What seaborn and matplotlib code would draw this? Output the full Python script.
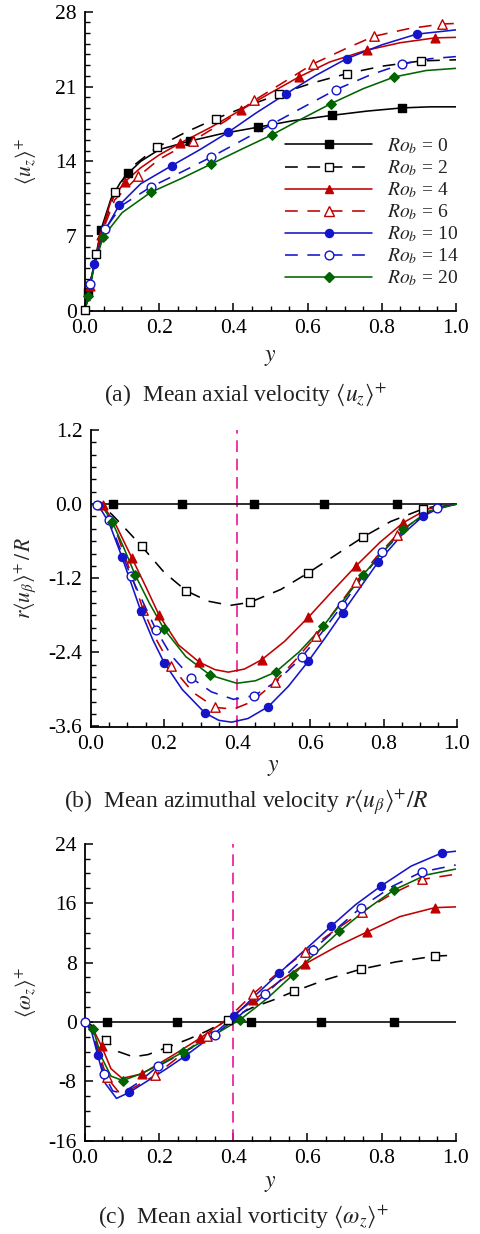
import matplotlib
matplotlib.use("Agg")
import matplotlib.pyplot as plt
import seaborn as sns
from matplotlib.lines import Line2D
from matplotlib.ticker import MultipleLocator, FormatStrFormatter

# ---------------------------------------------------------------------------
# Rotation numbers
ro_values = [0, 2, 4, 6, 10, 14, 20]

# (a) mean axial velocity <u_z>+ : curve points and symbol points, (y, value)
uz_ro0 = [(0, 0), (0.009, 1.8), (0.025, 4.4), (0.043, 7.6), (0.07, 10.5), (0.095, 12.0),
          (0.117, 12.9), (0.15, 14.0), (0.2, 15.1), (0.283, 15.9), (0.37, 16.6), (0.467, 17.2),
          (0.56, 17.8), (0.665, 18.3), (0.76, 18.7), (0.854, 19.0), (0.93, 19.1), (1.0, 19.1)]
uz_ro0_sym = [(0.009, 1.8), (0.043, 7.6), (0.117, 12.9), (0.283, 15.9), (0.467, 17.2),
              (0.665, 18.3), (0.854, 19.0)]
uz_ro2 = [(0, 0.1), (0.015, 2.7), (0.029, 5.3), (0.05, 8.0), (0.081, 11.1), (0.12, 13.3),
          (0.193, 15.3), (0.27, 16.7), (0.353, 18.0), (0.44, 19.2), (0.524, 20.3), (0.61, 21.3),
          (0.705, 22.2), (0.8, 22.9), (0.907, 23.4), (1.0, 23.5)]
uz_ro2_sym = [(0, 0.1), (0.029, 5.3), (0.081, 11.1), (0.193, 15.3), (0.353, 18.0),
              (0.524, 20.3), (0.705, 22.2), (0.907, 23.4)]
uz_ro4 = [(0, 0), (0.013, 2.3), (0.042, 7.1), (0.07, 10.3), (0.108, 12.1), (0.15, 13.4),
          (0.2, 14.6), (0.256, 15.7), (0.34, 17.2), (0.42, 18.8), (0.5, 20.4), (0.577, 21.9),
          (0.66, 23.3), (0.759, 24.4), (0.85, 25.1), (0.943, 25.55), (1.0, 25.6)]
uz_ro4_sym = [(0.013, 2.3), (0.042, 7.1), (0.108, 12.1), (0.256, 15.7), (0.42, 18.8),
              (0.577, 21.9), (0.759, 24.4), (0.943, 25.55)]
uz_ro6 = [(0, 0), (0.013, 2.3), (0.042, 7.0), (0.08, 10.4), (0.144, 12.6), (0.2, 14.2),
          (0.292, 15.95), (0.38, 17.8), (0.456, 19.7), (0.54, 21.5), (0.614, 23.1), (0.7, 24.5),
          (0.779, 25.7), (0.87, 26.4), (0.963, 26.85), (1.0, 26.9)]
uz_ro6_sym = [(0.144, 12.6), (0.292, 15.95), (0.456, 19.7), (0.614, 23.1), (0.779, 25.7),
              (0.963, 26.85)]
uz_ro10 = [(0, 0), (0.01, 1.8), (0.025, 4.4), (0.05, 7.3), (0.092, 9.9), (0.15, 11.9),
           (0.234, 13.6), (0.31, 15.1), (0.385, 16.7), (0.46, 18.5), (0.541, 20.3), (0.62, 22.0),
           (0.705, 23.6), (0.8, 24.9), (0.894, 25.9), (1.0, 26.3)]
uz_ro10_sym = [(0.025, 4.4), (0.092, 9.9), (0.234, 13.6), (0.385, 16.7), (0.541, 20.3),
               (0.705, 23.6), (0.894, 25.9)]
uz_ro14 = [(0, 0), (0.0135, 2.5), (0.03, 5.0), (0.054, 7.65), (0.1, 9.9), (0.177, 11.6),
           (0.26, 13.0), (0.34, 14.4), (0.42, 15.9), (0.505, 17.5), (0.59, 19.1), (0.676, 20.7),
           (0.77, 22.1), (0.855, 23.1), (0.93, 23.6), (1.0, 23.8)]
uz_ro14_sym = [(0.0135, 2.5), (0.054, 7.65), (0.177, 11.6), (0.34, 14.4), (0.505, 17.5),
               (0.676, 20.7), (0.855, 23.1)]
uz_ro20 = [(0, 0), (0.009, 1.45), (0.025, 4.2), (0.049, 6.95), (0.1, 9.2), (0.177, 11.1),
           (0.26, 12.4), (0.34, 13.75), (0.42, 15.1), (0.505, 16.5), (0.58, 17.9), (0.663, 19.4),
           (0.75, 20.8), (0.834, 21.9), (0.92, 22.5), (1.0, 22.7)]
uz_ro20_sym = [(0.009, 1.45), (0.049, 6.95), (0.177, 11.1), (0.34, 13.75), (0.505, 16.5),
               (0.663, 19.4), (0.834, 21.9)]

# (b) mean azimuthal velocity r<u_beta>+/R
ub_ro0 = [(0, 0), (1.0, 0)]
ub_ro0_sym = [(0.06, 0), (0.249, 0), (0.445, 0), (0.637, 0), (0.837, 0)]
ub_ro2 = [(0, 0), (0.03, -0.01), (0.06, -0.18), (0.1, -0.43), (0.139, -0.68), (0.2, -1.1),
          (0.26, -1.40), (0.32, -1.57), (0.381, -1.64), (0.435, -1.59), (0.52, -1.38),
          (0.595, -1.11), (0.67, -0.82), (0.745, -0.53), (0.82, -0.28), (0.907, -0.08),
          (0.96, -0.01), (1.0, 0)]
ub_ro2_sym = [(0.139, -0.68), (0.26, -1.40), (0.435, -1.59), (0.595, -1.11), (0.745, -0.53),
              (0.907, -0.08)]
ub_ro4 = [(0, 0), (0.034, -0.02), (0.07, -0.35), (0.112, -0.865), (0.15, -1.33), (0.187, -1.80),
          (0.24, -2.28), (0.297, -2.56), (0.34, -2.68), (0.376, -2.72), (0.42, -2.67),
          (0.467, -2.52), (0.53, -2.22), (0.595, -1.83), (0.66, -1.41), (0.725, -1.0),
          (0.79, -0.62), (0.854, -0.30), (0.92, -0.08), (1.0, 0)]
ub_ro4_sym = [(0.034, -0.02), (0.112, -0.865), (0.187, -1.80), (0.297, -2.56), (0.467, -2.52),
              (0.595, -1.83), (0.725, -1.0), (0.854, -0.30)]
ub_ro6 = [(0, 0), (0.03, -0.02), (0.07, -0.45), (0.1, -0.95), (0.144, -1.72), (0.18, -2.2),
          (0.219, -2.62), (0.28, -3.05), (0.34, -3.29), (0.39, -3.32), (0.44, -3.2),
          (0.504, -2.88), (0.56, -2.52), (0.615, -2.14), (0.67, -1.7), (0.725, -1.26),
          (0.78, -0.86), (0.836, -0.5), (0.9, -0.2), (0.95, -0.05), (1.0, 0)]
ub_ro6_sym = [(0.144, -1.72), (0.219, -2.62), (0.34, -3.29), (0.504, -2.88), (0.615, -2.14),
              (0.725, -1.26), (0.836, -0.5)]
ub_ro10 = [(0, 0), (0.021, -0.02), (0.05, -0.3), (0.085, -0.85), (0.137, -1.73), (0.17, -2.2),
           (0.201, -2.57), (0.25, -3.0), (0.312, -3.38), (0.35, -3.5), (0.385, -3.53),
           (0.43, -3.47), (0.485, -3.28), (0.54, -2.95), (0.595, -2.54), (0.64, -2.17),
           (0.688, -1.76), (0.74, -1.32), (0.785, -0.94), (0.85, -0.5), (0.907, -0.2),
           (0.96, -0.04), (1.0, 0)]
ub_ro10_sym = [(0.021, -0.02), (0.085, -0.85), (0.137, -1.73), (0.201, -2.57), (0.312, -3.38),
               (0.485, -3.28), (0.595, -2.54), (0.688, -1.76), (0.785, -0.94), (0.907, -0.2)]
ub_ro14 = [(0, 0), (0.018, -0.01), (0.05, -0.26), (0.11, -1.17), (0.178, -2.03), (0.22, -2.45),
           (0.274, -2.81), (0.33, -3.04), (0.39, -3.16), (0.447, -3.10), (0.51, -2.86),
           (0.576, -2.48), (0.63, -2.09), (0.687, -1.64), (0.74, -1.2), (0.797, -0.78),
           (0.87, -0.34), (0.945, -0.07), (1.0, 0)]
ub_ro14_sym = [(0.018, -0.01), (0.05, -0.26), (0.11, -1.17), (0.178, -2.03), (0.274, -2.81),
               (0.447, -3.10), (0.576, -2.48), (0.687, -1.64), (0.797, -0.78), (0.945, -0.07)]
ub_ro20 = [(0, 0), (0.03, -0.02), (0.059, -0.29), (0.09, -0.7), (0.121, -1.14), (0.16, -1.6),
           (0.2, -2.02), (0.26, -2.47), (0.327, -2.77), (0.399, -2.90), (0.45, -2.86),
           (0.505, -2.72), (0.57, -2.39), (0.636, -1.97), (0.69, -1.56), (0.745, -1.14),
           (0.8, -0.76), (0.854, -0.41), (0.92, -0.12), (1.0, 0)]
ub_ro20_sym = [(0.059, -0.29), (0.121, -1.14), (0.2, -2.02), (0.327, -2.77), (0.505, -2.72),
               (0.636, -1.97), (0.745, -1.14), (0.854, -0.41)]

# (c) mean axial vorticity <omega_z>+
wz_ro0 = [(0, 0), (1.0, 0)]
wz_ro0_sym = [(0.058, 0), (0.247, 0), (0.447, 0), (0.636, 0), (0.834, 0)]
wz_ro2 = [(0, 0), (0.02, -0.5), (0.057, -2.47), (0.09, -4.0), (0.13, -4.7), (0.17, -4.4),
          (0.22, -3.46), (0.28, -2.3), (0.33, -1.2), (0.387, 0.32), (0.45, 1.9), (0.51, 3.0),
          (0.565, 4.14), (0.65, 5.7), (0.744, 7.11), (0.84, 8.1), (0.944, 8.87), (1.0, 9.0)]
wz_ro2_sym = [(0.057, -2.47), (0.22, -3.46), (0.387, 0.32), (0.565, 4.14), (0.744, 7.11),
              (0.944, 8.87)]
wz_ro4 = [(0, 0), (0.02, -0.8), (0.045, -3.3), (0.07, -6.3), (0.1, -7.6), (0.153, -7.0),
          (0.2, -5.6), (0.25, -4.1), (0.31, -2.2), (0.38, 0.2), (0.454, 2.9), (0.52, 5.3),
          (0.593, 7.8), (0.68, 10.2), (0.76, 12.1), (0.85, 14.2), (0.944, 15.4), (1.0, 15.5)]
wz_ro4_sym = [(0.045, -3.3), (0.153, -7.0), (0.31, -2.2), (0.454, 2.9), (0.593, 7.8),
              (0.76, 12.1), (0.944, 15.4)]
wz_ro6 = [(0, 0), (0.02, -1.0), (0.04, -4.5), (0.058, -7.4), (0.09, -9.4), (0.13, -8.9),
          (0.189, -7.2), (0.25, -4.8), (0.328, -1.9), (0.39, 0.7), (0.454, 3.8), (0.52, 6.6),
          (0.593, 9.4), (0.67, 12.2), (0.746, 14.8), (0.83, 17.3), (0.908, 19.2), (1.0, 19.9)]
wz_ro6_sym = [(0.058, -7.4), (0.189, -7.2), (0.328, -1.9), (0.454, 3.8), (0.593, 9.4),
              (0.746, 14.8), (0.908, 19.2)]
wz_ro10 = [(0, 0), (0.015, -0.8), (0.034, -4.4), (0.055, -8.3), (0.085, -10.3), (0.119, -9.5),
           (0.17, -7.9), (0.22, -6.3), (0.27, -4.6), (0.34, -2.0), (0.403, 0.8), (0.46, 3.6),
           (0.524, 6.6), (0.6, 10.0), (0.664, 12.9), (0.73, 15.8), (0.798, 18.3), (0.88, 21.0),
           (0.964, 22.8), (1.0, 23.0)]
wz_ro10_sym = [(0.034, -4.4), (0.119, -9.5), (0.27, -4.6), (0.403, 0.8), (0.524, 6.6),
               (0.664, 12.9), (0.798, 18.3), (0.964, 22.8)]
wz_ro14 = [(0, 0), (0.02, -1.5), (0.051, -7.0), (0.075, -9.3), (0.1, -9.6), (0.14, -8.3),
           (0.196, -6.0), (0.27, -4.0), (0.351, -1.7), (0.42, 1.0), (0.486, 3.7), (0.55, 6.7),
           (0.614, 9.7), (0.68, 12.6), (0.744, 15.4), (0.83, 18.3), (0.908, 20.2), (1.0, 21.15)]
wz_ro14_sym = [(0, 0), (0.051, -7.0), (0.196, -6.0), (0.351, -1.7), (0.486, 3.7),
               (0.614, 9.7), (0.744, 15.4), (0.908, 20.2)]
wz_ro20 = [(0, 0), (0.022, -1.0), (0.045, -4.8), (0.07, -7.3), (0.102, -7.9), (0.15, -7.0),
           (0.2, -5.8), (0.265, -4.05), (0.34, -2.0), (0.418, 0.3), (0.49, 3.1), (0.56, 6.3),
           (0.62, 9.2), (0.686, 12.2), (0.76, 15.2), (0.834, 17.8), (0.92, 19.8), (1.0, 20.6)]
wz_ro20_sym = [(0.022, -1.0), (0.102, -7.9), (0.265, -4.05), (0.418, 0.3), (0.56, 6.3),
               (0.686, 12.2), (0.834, 17.8)]

# Radial position of the reference line in panels (b) and (c)
y_ref = 0.4

# ---------------------------------------------------------------------------
# Appearance of each rotation number
RED, BLUE, GREEN = "#c00000", "#1414c8", "#006400"
DASH = (0, (8, 6))
styles = {
    0: dict(color="black", ls="-", marker="s", filled=True, ms=5.2),
    2: dict(color="black", ls=DASH, marker="s", filled=False, ms=5.2),
    4: dict(color=RED, ls="-", marker="^", filled=True, ms=6.3),
    6: dict(color=RED, ls=DASH, marker="^", filled=False, ms=6.8),
    10: dict(color=BLUE, ls="-", marker="o", filled=True, ms=5.8),
    14: dict(color=BLUE, ls=DASH, marker="o", filled=False, ms=6.3),
    20: dict(color=GREEN, ls="-", marker="D", filled=True, ms=4.8),
}

panel_a = {0: (uz_ro0, uz_ro0_sym), 2: (uz_ro2, uz_ro2_sym), 4: (uz_ro4, uz_ro4_sym),
           6: (uz_ro6, uz_ro6_sym), 10: (uz_ro10, uz_ro10_sym), 14: (uz_ro14, uz_ro14_sym),
           20: (uz_ro20, uz_ro20_sym)}
panel_b = {0: (ub_ro0, ub_ro0_sym), 2: (ub_ro2, ub_ro2_sym), 4: (ub_ro4, ub_ro4_sym),
           6: (ub_ro6, ub_ro6_sym), 10: (ub_ro10, ub_ro10_sym), 14: (ub_ro14, ub_ro14_sym),
           20: (ub_ro20, ub_ro20_sym)}
panel_c = {0: (wz_ro0, wz_ro0_sym), 2: (wz_ro2, wz_ro2_sym), 4: (wz_ro4, wz_ro4_sym),
           6: (wz_ro6, wz_ro6_sym), 10: (wz_ro10, wz_ro10_sym), 14: (wz_ro14, wz_ro14_sym),
           20: (wz_ro20, wz_ro20_sym)}

# ---------------------------------------------------------------------------
sns.set_theme(style="ticks")
plt.rcParams.update({
    "font.family": ["Liberation Serif", "DejaVu Serif"],
    "mathtext.fontset": "stix",
    "axes.unicode_minus": False,
    "xtick.direction": "in",
    "ytick.direction": "in",
    "axes.edgecolor": "black",
    "xtick.color": "black",
    "ytick.color": "black",
    "text.color": "#222222",
})

W, H = 481, 1234
fig = plt.figure(figsize=(W / 100, H / 100), dpi=100)


def add_axes_px(left, top, right, bottom):
    return fig.add_axes([left / W, 1 - bottom / H, (right - left) / W, (bottom - top) / H])


def draw_series(ax, data):
    for ro in ro_values:
        st = styles[ro]
        curve, sym = data[ro]
        cx, cy = zip(*curve)
        sns.lineplot(x=list(cx), y=list(cy), ax=ax, color=st["color"], linestyle=st["ls"],
                     linewidth=1.15, sort=False, estimator=None, zorder=2)
        sx, sy = zip(*sym)
        face = st["color"] if st["filled"] else "white"
        sns.scatterplot(x=list(sx), y=list(sy), ax=ax, marker=st["marker"],
                        s=st["ms"] ** 2, color=face, edgecolor=st["color"],
                        linewidth=1.0, zorder=3, clip_on=False, legend=False)


def style_axes(ax, ylim, ymajor, yminor, fmt):
    ax.set_xlim(0, 1)
    ax.set_ylim(*ylim)
    ax.xaxis.set_major_locator(MultipleLocator(0.2))
    ax.xaxis.set_minor_locator(MultipleLocator(0.05))
    ax.yaxis.set_major_locator(MultipleLocator(ymajor))
    ax.yaxis.set_minor_locator(MultipleLocator(yminor))
    ax.xaxis.set_major_formatter(FormatStrFormatter("%.1f"))
    ax.yaxis.set_major_formatter(FormatStrFormatter(fmt))
    for s in ("top", "right"):
        ax.spines[s].set_visible(False)
    for s in ("left", "bottom"):
        ax.spines[s].set_linewidth(1.3)
    ax.tick_params(which="major", length=6, width=1.1, labelsize=15.5)
    ax.tick_params(which="minor", length=3.5, width=1.0)
    ax.tick_params(axis="x", which="major", pad=6)
    ax.tick_params(axis="y", which="major", pad=6)
    ax.set_xlabel("")
    ax.set_ylabel("")
    ax.set_facecolor("white")


# (a) ------------------------------------------------------------------------
ax_a = add_axes_px(85, 11.7, 456, 311)
draw_series(ax_a, panel_a)
style_axes(ax_a, (0, 28), 7, 1, "%d")
ax_a.set_ylabel(r"$\langle u_z\rangle^{+}$", fontsize=15.5)
ax_a.yaxis.set_label_coords(-0.125, 0.5)

handles = []
for ro in ro_values:
    st = styles[ro]
    handles.append(Line2D([], [], color=st["color"], linestyle=st["ls"], linewidth=1.15,
                          marker=st["marker"], markersize=st["ms"],
                          markerfacecolor=st["color"] if st["filled"] else "white",
                          markeredgecolor=st["color"], markeredgewidth=1.0))
labels = [rf"$Ro_b$ = {ro}" for ro in ro_values]
ax_a.legend(handles, labels, loc="center left", bbox_to_anchor=(0.539, 0.33),
            frameon=False, fontsize=14, handlelength=4.5, handletextpad=0.75,
            labelspacing=0.12, borderpad=0, borderaxespad=0, markerscale=1.0)

# (b) ------------------------------------------------------------------------
ax_b = add_axes_px(90.7, 430, 456.7, 726.5)
draw_series(ax_b, panel_b)
ax_b.axvline(y_ref, color="#e8189c", linestyle=(0, (7, 4)), linewidth=1.2, zorder=1)
style_axes(ax_b, (-3.6, 1.2), 1.2, 0.2, "%.1f")
ax_b.set_ylabel(r"$r\langle u_{\beta}\rangle^{+}\,/\,R$", fontsize=15.5)
ax_b.yaxis.set_label_coords(-0.145, 0.5)

# (c) ------------------------------------------------------------------------
ax_c = add_axes_px(85, 843.8, 455.7, 1140.7)
draw_series(ax_c, panel_c)
ax_c.axvline(y_ref, color="#e8189c", linestyle=(0, (7, 4)), linewidth=1.2, zorder=1)
style_axes(ax_c, (-16, 24), 8, 2, "%d")
ax_c.set_ylabel(r"$\langle \omega_z\rangle^{+}$", fontsize=15.5)
ax_c.yaxis.set_label_coords(-0.125, 0.5)

# axis labels and captions
for xc, yc in ((270, 358), (273.7, 768), (270, 1184)):
    fig.text(xc / W, 1 - yc / H, r"$y$", fontsize=17, ha="center", va="center")

captions = [
    (245, 395, r"(a)  Mean axial velocity $\langle u_z\rangle^{+}$"),
    (246, 803, r"(b)  Mean azimuthal velocity $r\langle u_{\beta}\rangle^{+}/R$"),
    (244, 1217, r"(c)  Mean axial vorticity $\langle \omega_z\rangle^{+}$"),
]
for xc, yc, txt in captions:
    fig.text(xc / W, 1 - yc / H, txt, fontsize=17, ha="center", va="center")

fig.savefig("out.png", dpi=100, facecolor="white")
